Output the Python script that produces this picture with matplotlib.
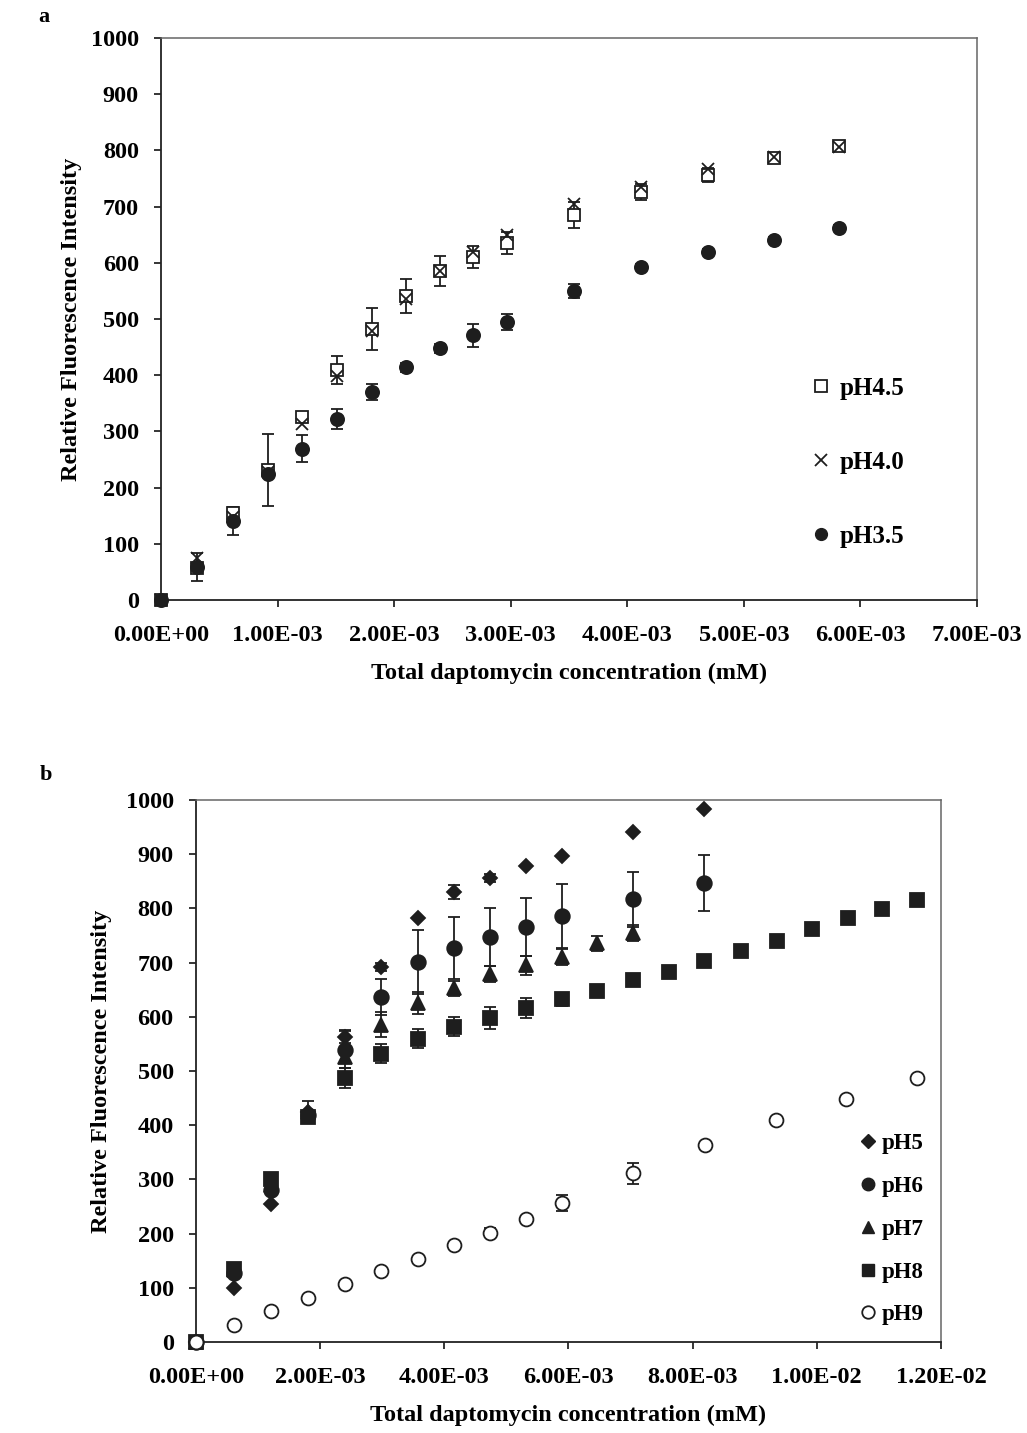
import numpy as np
import matplotlib
matplotlib.use('Agg')
import matplotlib.pyplot as plt
from matplotlib.lines import Line2D
from matplotlib.ticker import FuncFormatter

plt.rcParams['font.family'] = ['Liberation Serif', 'DejaVu Serif']
plt.rcParams['font.weight'] = 'bold'

INK = '#1e1e1e'

# ---- panel a data (x in mM x 1e-3) ----
xa = np.array([0, 0.31, 0.62, 0.92, 1.21, 1.51, 1.81, 2.10, 2.39, 2.68,
               2.97, 3.54, 4.12, 4.69, 5.26, 5.82]) * 1e-3
ph45 = [0, 57, 155, 232, 325, 409, 482, 541, 585, 610, 635, 685, 726, 756, 786, 808]
ph45_err = [0, 6, 8, 64, 8, 25, 37, 30, 27, 20, 20, 23, 15, 12, 8, 8]
ph40 = [0, 75, 148, 228, 313, 398, 478, 535, 585, 620, 650, 705, 735, 766, 788, 806]
ph35 = [0, 58, 140, 225, 269, 322, 370, 414, 448, 471, 495, 550, 592, 619, 641, 662]
ph35_err = [0, 25, 25, 0, 24, 17, 15, 8, 8, 20, 14, 13, 5, 5, 5, 5]

# ---- panel b data ----
x8 = np.array([0, 0.61, 1.21, 1.80, 2.40, 2.98, 3.58, 4.16, 4.74, 5.32, 5.90,
               6.46, 7.04, 7.62, 8.18, 8.78, 9.36, 9.92, 10.50, 11.05, 11.61]) * 1e-3
ph8 = [0, 135, 300, 415, 487, 532, 560, 582, 598, 616, 632, 648, 668, 683, 703,
       721, 740, 762, 782, 799, 815]
ph8_err = [0, 8, 8, 8, 19, 18, 17, 18, 20, 18, 12, 8, 0, 0, 0, 0, 0, 0, 0, 0, 0]

x56 = np.array([0, 0.61, 1.21, 1.80, 2.40, 2.98, 3.58, 4.16, 4.74, 5.32, 5.90,
                7.04, 8.18]) * 1e-3
ph5 = [0, 100, 255, 425, 563, 692, 783, 830, 856, 878, 897, 941, 983]
ph5_err = [0, 0, 0, 0, 12, 8, 0, 13, 8, 0, 0, 0, 0]
ph6 = [0, 128, 280, 418, 539, 636, 701, 727, 747, 766, 786, 817, 847]
ph6_err = [0, 0, 0, 0, 34, 33, 59, 58, 54, 53, 59, 51, 52]

x7 = np.array([0, 0.61, 1.21, 1.80, 2.40, 2.98, 3.58, 4.16, 4.74, 5.32, 5.90,
               6.46, 7.04]) * 1e-3
ph7 = [0, 132, 290, 425, 526, 585, 625, 653, 679, 695, 710, 736, 754]
ph7_err = [0, 0, 0, 20, 0, 23, 20, 14, 15, 17, 15, 14, 15]

x9 = np.array([0, 0.61, 1.21, 1.80, 2.40, 2.98, 3.58, 4.16, 4.74, 5.32, 5.90,
               7.04, 8.20, 9.34, 10.47, 11.61]) * 1e-3
ph9 = [0, 31, 57, 81, 107, 131, 153, 179, 202, 227, 256, 311, 363, 409, 448, 487]
ph9_err = [0, 0, 0, 0, 0, 0, 0, 0, 8, 0, 15, 20, 0, 0, 0, 0]


def series(ax, x, y, err, marker, ms, open_=False, mew=1.3):
    x = np.asarray(x); y = np.asarray(y, float)
    if err is not None:
        err = np.asarray(err, float)
        m = err > 0
        ax.errorbar(x[m], y[m], yerr=err[m], fmt='none', ecolor=INK,
                    elinewidth=1.3, capsize=4, capthick=1.3, zorder=2)
    ax.plot(x, y, linestyle='none', marker=marker, ms=ms,
            mfc='white' if open_ else INK, mec=INK, mew=mew, zorder=3,
            clip_on=False)


def style_axes(ax, xmax, xstep, xpad, ypad):
    ax.set_ylim(0, 1000)
    ax.set_yticks(np.arange(0, 1001, 100))
    ax.set_xlim(0, xmax)
    ax.set_xticks(np.arange(0, xmax + 1e-9, xstep))
    ax.xaxis.set_major_formatter(FuncFormatter(lambda v, p: f'{v:.2E}'))
    ax.tick_params(direction='out', length=5, width=1.1, labelsize=17.5,
                   top=False, right=False)
    ax.tick_params(axis='y', pad=11)
    ax.tick_params(axis='x', pad=13)
    for s in ('left', 'bottom'):
        ax.spines[s].set_color('#222222')
        ax.spines[s].set_linewidth(1.3)
    for s in ('top', 'right'):
        ax.spines[s].set_color('#666666')
        ax.spines[s].set_linewidth(1.1)
    ax.set_xlabel('Total daptomycin concentration (mM)', fontsize=17.5,
                  fontweight='bold', labelpad=xpad)
    ax.set_ylabel('Relative Fluorescence Intensity', fontsize=17.5,
                  fontweight='bold', labelpad=ypad)


fig = plt.figure(figsize=(10.27, 14.33), dpi=100)

# panel a
ax1 = fig.add_axes([0.1568, 0.5813, 0.7945, 0.3922])
series(ax1, xa, ph45, ph45_err, 's', 8.5, open_=True)
series(ax1, xa, ph40, None, 'x', 9)
series(ax1, xa, ph35, ph35_err, 'o', 9.5)
style_axes(ax1, 7e-3, 1e-3, xpad=12, ypad=6)
hA = [Line2D([], [], ls='none', marker='s', ms=8.5, mfc='white', mec=INK, mew=1.3),
      Line2D([], [], ls='none', marker='x', ms=9, mec=INK, mew=1.3),
      Line2D([], [], ls='none', marker='o', ms=8.5, mfc=INK, mec=INK)]
ax1.legend(hA, ['pH4.5', 'pH4.0', 'pH3.5'], loc='center',
           bbox_to_anchor=(0.855, 0.245), frameon=False, fontsize=18,
           labelspacing=2.05, handlelength=0.7, handletextpad=0.4)

# panel b
ax2 = fig.add_axes([0.1908, 0.0635, 0.7254, 0.3782])
series(ax2, x8, ph8, ph8_err, 's', 10)
series(ax2, x56, ph6, ph6_err, 'o', 10.5)
series(ax2, x7, ph7, ph7_err, '^', 9.5)
series(ax2, x56, ph5, ph5_err, 'D', 7.5)
series(ax2, x9, ph9, ph9_err, 'o', 10, open_=True)
style_axes(ax2, 1.2e-2, 2e-3, xpad=12, ypad=10)
hB = [Line2D([], [], ls='none', marker='D', ms=7, mfc=INK, mec=INK),
      Line2D([], [], ls='none', marker='o', ms=9, mfc=INK, mec=INK),
      Line2D([], [], ls='none', marker='^', ms=9, mfc=INK, mec=INK),
      Line2D([], [], ls='none', marker='s', ms=9, mfc=INK, mec=INK),
      Line2D([], [], ls='none', marker='o', ms=9, mfc='white', mec=INK, mew=1.3)]
ax2.legend(hB, ['pH5', 'pH6', 'pH7', 'pH8', 'pH9'], loc='center',
           bbox_to_anchor=(0.935, 0.208), frameon=False, fontsize=16.5,
           labelspacing=0.95, handlelength=0.6, handletextpad=0.3)

fig.text(0.037, 0.988, 'a', fontsize=16, fontweight='bold', va='center')
fig.text(0.039, 0.459, 'b', fontsize=16, fontweight='bold', va='center')

fig.savefig('out.png', dpi=100)
